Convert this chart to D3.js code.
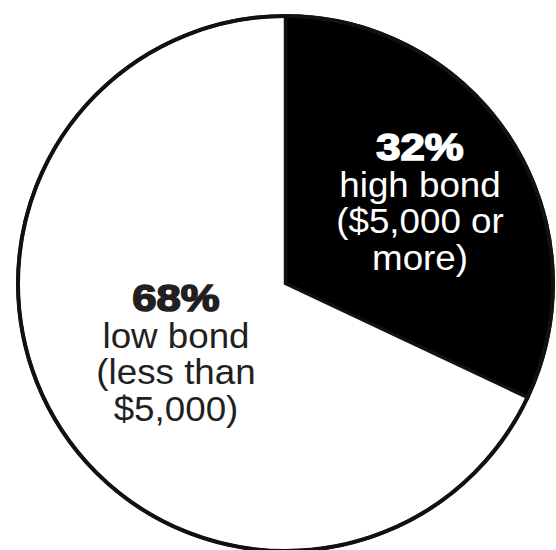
<!DOCTYPE html>
<html><head><meta charset="utf-8">
<script src="https://cdn.jsdelivr.net/npm/d3@7"></script>
<style>html,body{margin:0;padding:0;background:#fff;}svg{display:block;}</style>
</head><body>
<script>
const categories = ["high bond", "low bond"];
const values = [32, 68];
const pctLabels = ["32%", "68%"];
const descLines = [["high bond", "($5,000 or", "more)"], ["low bond", "(less than", "$5,000)"]];
const fills = ["#000000", "#ffffff"];
const textColors = ["#ffffff", "#231f20"];

const W = 556, H = 550;
const cx = 285.5, cy = 283.5, R = 267.5;

const svg = d3.select("body").append("svg").attr("width", W).attr("height", H);
const g = svg.append("g").attr("transform", `translate(${cx},${cy})`);

const pie = d3.pie().sort(null).value(d => d)(values);
const arc = d3.arc().innerRadius(0).outerRadius(R);

g.selectAll("path.slice").data(pie).enter().append("path")
  .attr("class", "slice")
  .attr("d", arc)
  .attr("fill", (d, i) => fills[i])
  .attr("stroke", "#111")
  .attr("stroke-width", 3.5)
  .attr("stroke-linejoin", "miter");

// outer ring
g.append("circle").attr("r", R).attr("fill", "none").attr("stroke", "#111").attr("stroke-width", 4);

// label anchors (relative to centre)
const labelPos = [[134.5, -123.5], [-109.5, 27.5]];
const lineH = 36.7;

pie.forEach((d, i) => {
  const [lx, ly] = labelPos[i];
  const lg = g.append("g").attr("transform", `translate(${lx},${ly})`);
  lg.append("text")
    .attr("text-anchor", "middle")
    .attr("transform", "scale(1.18,1)")
    .attr("font-family", "'Liberation Sans', Arial, sans-serif")
    .attr("font-weight", "bold")
    .attr("font-size", 37)
    .attr("fill", textColors[i])
    .attr("stroke", textColors[i])
    .attr("stroke-width", 1.6)
    .text(pctLabels[i]);
  descLines[i].forEach((t, j) => {
    lg.append("text")
      .attr("text-anchor", "middle")
      .attr("transform", `translate(0,${lineH * (j + 1)}) scale(1.05,1)`)
      .attr("font-family", "'Liberation Sans', Arial, sans-serif")
      .attr("font-size", 35)
      .attr("fill", textColors[i])
      .text(t);
  });
});
</script>
</body></html>
